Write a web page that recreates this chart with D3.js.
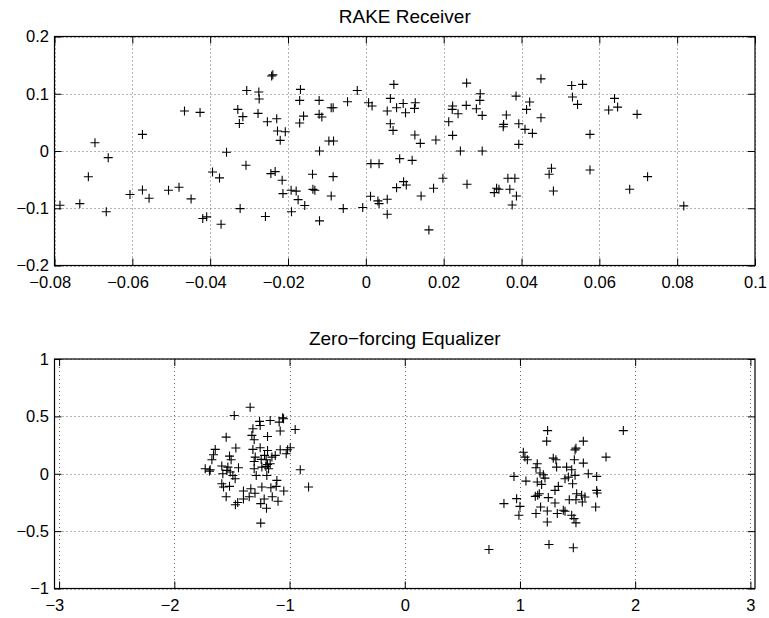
<!DOCTYPE html>
<html><head><meta charset="utf-8">
<script src="https://cdn.jsdelivr.net/npm/d3@7"></script>
<style>body{margin:0;background:#fff} svg{display:block}</style>
</head><body><svg id="chart" width="769" height="618"></svg>
<script>
// ---- data ----
const rakeTitle = "RAKE Receiver";
const zfTitle = "Zero\u2212forcing Equalizer";
const rakeXTicks = [-0.08,-0.06,-0.04,-0.02,0,0.02,0.04,0.06,0.08,0.1];
const rakeYTicks = [-0.2,-0.1,0,0.1,0.2];
const zfXTicks = [-3,-2,-1,0,1,2,3];
const zfYTicks = [-1,-0.5,0,0.5,1];
// [in-phase, quadrature]
const rakePoints = [
[-0.0786,-0.0948],[-0.0735,-0.092],[-0.0713,-0.045],[-0.0696,0.0145],[-0.0667,-0.106],[-0.0662,-0.0116],[-0.0606,-0.076],[-0.0574,-0.068],[-0.0574,0.029],[-0.0557,-0.0826],[-0.0507,-0.0686],[-0.048,-0.0634],[-0.0466,0.0698],[-0.0449,-0.0837],[-0.0426,0.0674],[-0.0419,-0.118],[-0.0409,-0.115],[-0.0394,-0.0366],[-0.0376,-0.047],[-0.0372,-0.128],[-0.0358,-0.0023],[-0.0329,0.0727],[-0.0325,0.048],[-0.0316,0.06],[-0.0323,-0.1006],[-0.0308,-0.025],[-0.0306,0.1058],[-0.0275,0.103],[-0.0274,0.0907],[-0.0277,0.0657],[-0.0253,0.051],[-0.0242,0.131],[-0.0239,0.133],[-0.0258,-0.1145],[-0.0244,-0.0395],[-0.0233,-0.036],[-0.0229,0.0564],
[-0.0227,0.035],[-0.0207,0.0337],[-0.022,0.0186],[-0.0215,-0.051],[-0.0213,-0.0744],[-0.0192,-0.0686],[-0.0179,-0.07],[-0.0174,-0.085],[-0.0157,-0.0953],[-0.0191,-0.106],[-0.017,0.0884],[-0.0168,0.1076],[-0.017,0.0488],[-0.016,0.061],[-0.012,0.0884],[-0.012,0.064],[-0.0113,0.0593],[-0.0089,0.0756],[-0.0084,0.0756],[-0.0095,0.0174],[-0.0083,0.0174],[-0.0119,0.0],[-0.0137,-0.0407],[-0.0084,-0.0448],[-0.0136,-0.067],[-0.0131,-0.0686],[-0.0089,-0.0785],[-0.0119,-0.122],[-0.0058,-0.1006],[-0.0047,0.086],[-0.0022,0.1058],[-0.0008,-0.0988],[0.0007,0.0843],[0.0016,0.0785],[0.0055,0.0698],[0.0063,0.0919],[0.0072,0.1163],[0.0063,0.0477],[0.007,0.036],[0.0079,0.0756],[0.0096,0.0831],[0.0102,0.0669],[0.0127,0.0843],[0.0125,0.0744],[0.0126,0.0279],[0.014,0.0134],[0.018,0.0192],[0.0013,-0.0221],[0.0034,-0.0221],[0.0087,-0.0134],[0.0119,-0.0163],[0.0079,-0.064],[0.0097,-0.0535],[0.0104,-0.0593],[0.0142,-0.0785],[0.0174,-0.0651],[0.0198,-0.0477],[0.0012,-0.079],[0.0031,-0.0872],[0.0034,-0.0919],[0.0055,-0.0843],[0.0055,-0.1105],[0.0162,-0.1378],[0.0223,0.0785],[0.0222,0.0727],[0.0237,0.0651],[0.0259,0.1186],[0.0258,0.0797],[0.0294,0.1],[0.0293,0.0884],[0.0284,0.0738],[0.0299,0.0622],[0.0213,0.0512],[0.0223,0.0273],[0.0243,0.0],[0.0299,0.0],[0.026,-0.0581],[0.0361,0.0628],[0.0354,0.0465],[0.0353,0.0424],[0.0386,0.0959],[0.0393,0.0477],[0.0393,0.0116],[0.0365,-0.0477],[0.0383,-0.0477],[0.0336,-0.0651],[0.033,-0.0727],[0.0342,-0.0669],[0.037,-0.0669],[0.0387,-0.0785],[0.0376,-0.0942],
[0.0421,0.0855],[0.0413,0.0727],[0.0409,0.0378],[0.0428,0.0308],[0.045,0.126],[0.045,0.0581],[0.0529,0.1145],[0.0557,0.1163],[0.0531,0.0942],[0.0544,0.0814],[0.0576,0.0291],[0.0477,-0.0302],[0.0471,-0.0407],[0.0482,-0.0698],[0.0576,-0.0331],[0.0639,0.0919],[0.0624,0.0715],[0.0647,0.0767],[0.0697,0.064],[0.0678,-0.0669],[0.0724,-0.0448],[0.0817,-0.0959]
];
const zfPoints = [
[-1.342,0.58],[-1.48,0.508],[-1.26,0.456],[-1.255,0.421],[-1.168,0.464],[-1.09,0.45],[-1.06,0.488],[-1.052,0.479],[-1.081,0.372],[-0.951,0.386],[-1.318,0.392],[-1.327,0.334],[-1.307,0.296],[-1.191,0.325],[-1.55,0.319],[-1.466,0.224],[-1.645,0.212],[-1.66,0.165],[-1.674,0.122],[-1.318,0.212],[-1.255,0.226],[-1.191,0.203],[-1.217,0.16],[-1.298,0.145],[-1.307,0.107],[-1.246,0.125],[-1.203,0.122],[-1.153,0.145],[-1.124,0.16],[-1.081,0.209],[-1.017,0.209],[-0.994,0.226],[-1.029,0.174],[-1.521,0.154],[-1.507,0.122],[-1.588,0.067],[-1.535,0.058],[-1.443,0.052],[-1.732,0.044],[-1.689,0.035],[-1.695,0.023],[-1.307,0.044],[-1.24,0.058],[-1.205,0.064],[-1.168,0.087],[-1.289,-0.015],[-1.197,-0.015],[-1.191,0.081],[-1.579,0.0],[-1.515,0.015],[-1.472,-0.044],[-1.492,-0.015],[-1.544,0.029],[-1.182,0.044],[-0.907,0.035],[-1.588,-0.087],[-1.573,-0.116],[-1.521,-0.11],[-1.336,-0.131],[-1.24,-0.116],[-1.162,-0.122],[-1.116,-0.11],[-1.11,-0.058],[-0.835,-0.116],
[-1.47,-0.27],[-1.45,-0.25],[-1.4,-0.22],[-1.35,-0.2],[-1.3,-0.17],[-1.25,-0.26],[-1.22,-0.22],[-1.15,-0.2],[-1.1,-0.24],[-1.2,-0.3],[-1.25,-0.43],[-1.05,-0.15],[-1.4,-0.15],[-1.55,-0.2],
[1.24,0.376],[1.232,0.284],[1.55,0.284],[1.486,0.223],[1.478,0.208],[1.897,0.376],[1.747,0.145],[1.029,0.188],[1.043,0.145],[1.064,0.122],[1.289,0.136],[1.312,0.122],[1.318,0.058],[1.15,0.087],[1.139,0.052],[1.472,0.122],[1.55,0.093],[1.405,0.058],[1.449,0.035],[1.593,0.0],[1.666,-0.023],[0.948,-0.023],[1.052,-0.064],[1.174,0.006],[1.203,-0.009],[1.217,-0.038],[1.15,-0.072],[1.188,-0.093],[1.391,-0.043],[1.42,-0.029],[1.478,-0.014],[1.457,-0.087],[1.333,-0.11],[1.304,-0.145],[1.666,-0.145],[1.671,-0.168],[1.492,-0.174],[1.535,-0.188],[1.564,-0.203],[1.428,-0.226],[1.486,-0.226],[1.541,-0.246],[1.168,-0.174],[1.154,-0.188],[1.133,-0.197],[1.246,-0.208],[0.971,-0.217],[0.861,-0.26],[1.0,-0.284],[1.179,-0.29],[1.304,-0.255],[1.657,-0.29],[1.376,-0.318],[1.391,-0.327],[1.324,-0.347],[1.139,-0.347],[0.991,-0.362],[1.237,-0.324],[1.449,-0.362],[1.469,-0.391],[1.486,-0.428],[1.237,-0.42],[0.731,-0.66],[1.252,-0.616],[1.463,-0.645]
];

// ---- drawing ----
const svg = d3.select("#chart");
const FONT = "'Liberation Sans', Arial, Helvetica, sans-serif";
const TICK_FS = 16.5, TITLE_FS = 19;
const fmt = v => String(v).replace("-", "\u2212");

function panel(cfg) {
  const {left, right, top, bottom, xDomain, yDomain, xTicks, yTicks, data, title} = cfg;
  const x = d3.scaleLinear().domain(xDomain).range([left, right]);
  const y = d3.scaleLinear().domain(yDomain).range([bottom, top]);
  const g = svg.append("g");
  // grid
  g.append("g").selectAll("line").data(xTicks).join("line")
    .attr("x1", d => Math.round(x(d)) + 0.5).attr("x2", d => Math.round(x(d)) + 0.5)
    .attr("y1", top).attr("y2", bottom)
    .attr("stroke", "#666").attr("stroke-dasharray", "1,3");
  g.append("g").selectAll("line").data(yTicks).join("line")
    .attr("y1", d => Math.round(y(d)) + 0.5).attr("y2", d => Math.round(y(d)) + 0.5)
    .attr("x1", left).attr("x2", right)
    .attr("stroke", "#666").attr("stroke-dasharray", "1,3");
  const tl = 7;
  const ax = (gen, tx, ty, lbl) => {
    const a = g.append("g").attr("transform", `translate(${tx},${ty})`).call(gen);
    a.select(".domain").remove();
    a.selectAll(".tick line").attr("stroke", "#000");
    a.selectAll("text").attr("font-family", FONT).attr("font-size", TICK_FS).attr("fill", "#000");
    if (!lbl) a.selectAll("text").remove();
    return a;
  };
  const xb = ax(d3.axisBottom(x).tickValues(xTicks).tickFormat(fmt).tickSizeInner(-tl).tickSizeOuter(0).tickPadding(11), 0, bottom, true);
  // negative labels: centre on the numeric part (minus sign hangs left)
  xb.selectAll(".tick text").attr("dx", d => d < 0 ? "-0.29em" : 0);
  ax(d3.axisTop(x).tickValues(xTicks).tickSizeInner(-tl).tickSizeOuter(0), 0, top, false);
  ax(d3.axisLeft(y).tickValues(yTicks).tickFormat(fmt).tickSizeInner(-tl).tickSizeOuter(0).tickPadding(5.5), left, 0, true);
  ax(d3.axisRight(y).tickValues(yTicks).tickSizeInner(-tl).tickSizeOuter(0), right, 0, false);
  // box
  g.append("rect").attr("x", left).attr("y", top).attr("width", right - left).attr("height", bottom - top)
    .attr("fill", "none").attr("stroke", "#000").attr("stroke-width", 1.2);
  // markers '+'
  const s = 4.5;
  const m = g.append("g").attr("stroke", "#000").attr("stroke-width", 1.1);
  m.selectAll("path").data(data).join("path")
    .attr("d", d => {
      const px = x(d[0]), py = y(d[1]);
      return `M${px - s},${py}H${px + s}M${px},${py - s}V${py + s}`;
    });
  // title
  g.append("text").attr("x", (left + right) / 2).attr("y", top - 14)
    .attr("text-anchor", "middle").attr("font-family", FONT).attr("font-size", TITLE_FS)
    .attr("fill", "#000").text(title);
}

panel({left: 54.5, right: 755, top: 36.5, bottom: 265.5,
  xDomain: [-0.08, 0.1], yDomain: [-0.2, 0.2],
  xTicks: rakeXTicks, yTicks: rakeYTicks, data: rakePoints, title: rakeTitle});
panel({left: 54.5, right: 755, top: 359, bottom: 588.5,
  xDomain: [-3.04, 3.04], yDomain: [-1, 1],
  xTicks: zfXTicks, yTicks: zfYTicks, data: zfPoints, title: zfTitle});
</script></body></html>
